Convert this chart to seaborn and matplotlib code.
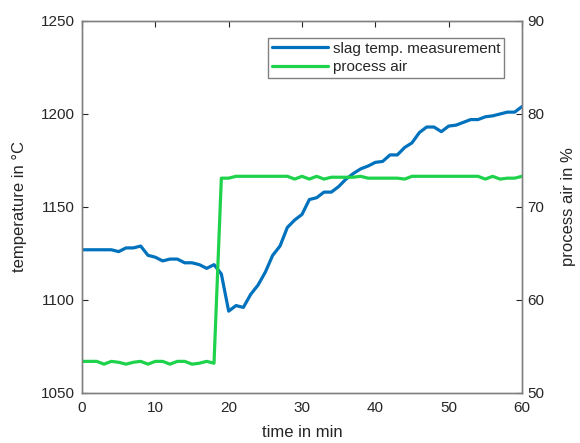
import numpy as np
import pandas as pd
import seaborn as sns
import matplotlib
matplotlib.use("Agg")
import matplotlib.pyplot as plt

# time axis in minutes, one sample per minute
time_min = list(range(0, 61))

# slag temperature measurement in degC
slag_temp = [1127, 1127, 1127, 1127, 1127, 1126, 1128, 1128, 1129, 1124,
             1123, 1121, 1122, 1122, 1120, 1120, 1119, 1117, 1119, 1114,
             1094, 1097, 1096, 1103, 1108, 1115, 1124, 1129, 1139, 1143,
             1146, 1154, 1155, 1158, 1158, 1161, 1165, 1168, 1170.5, 1172,
             1174, 1174.5, 1178, 1178, 1182, 1184.5, 1190, 1193, 1193, 1190.5,
             1193.5, 1194, 1195.5, 1197, 1197, 1198.5, 1199, 1200, 1201, 1201, 1204]

# process air in %
process_air = [53.4, 53.4, 53.4, 53.1, 53.4, 53.3, 53.1, 53.3, 53.4, 53.1,
               53.4, 53.4, 53.1, 53.4, 53.4, 53.1, 53.2, 53.4, 53.2, 73.1,
               73.1, 73.3, 73.3, 73.3, 73.3, 73.3, 73.3, 73.3, 73.3, 73.0,
               73.3, 73.0, 73.3, 73.0, 73.2, 73.2, 73.2, 73.2, 73.3, 73.1,
               73.1, 73.1, 73.1, 73.1, 73.0, 73.3, 73.3, 73.3, 73.3, 73.3,
               73.3, 73.3, 73.3, 73.3, 73.3, 73.0, 73.3, 73.0, 73.1, 73.1, 73.3]

df = pd.DataFrame({"time": time_min, "temp": slag_temp, "air": process_air})

sns.set_style("white")
plt.rcParams["font.family"] = ["Liberation Sans", "DejaVu Sans"]

blue = "#0072BD"
green = "#1ED24B"
grey = "#808080"
txt = "#262626"

fig = plt.figure(figsize=(5.8, 4.43), dpi=100)
ax = fig.add_axes([0.1414, 0.1129, 0.9 - 0.1414, 0.9526 - 0.1129])
ax2 = ax.twinx()

sns.lineplot(data=df, x="time", y="temp", ax=ax, color=blue, linewidth=2.3,
             label="slag temp. measurement", legend=False)
sns.lineplot(data=df, x="time", y="air", ax=ax2, color=green, linewidth=2.3,
             label="process air", legend=False)

ax.set_xlim(0, 60)
ax.set_ylim(1050, 1250)
ax2.set_ylim(50, 90)
ax.set_xticks(range(0, 61, 10))
ax.set_yticks(range(1050, 1251, 50))
ax2.set_yticks(range(50, 91, 10))

ax.set_xlabel("time in min", fontsize=12, color=txt, labelpad=7)
ax.set_ylabel("temperature in °C", fontsize=12, color=txt, labelpad=10)
ax2.set_ylabel("process air in %", fontsize=12, color=txt, labelpad=12)

for a in (ax, ax2):
    for s in a.spines.values():
        s.set_color(grey)
        s.set_linewidth(1.0)
    a.tick_params(direction="in", length=4, width=0.8, color=txt,
                  labelsize=11, labelcolor=txt)
ax.tick_params(axis="x", top=True, pad=6)
ax.tick_params(axis="y", left=True, pad=5)
ax2.tick_params(axis="y", right=True, pad=4)

h1, l1 = ax.get_legend_handles_labels()
h2, l2 = ax2.get_legend_handles_labels()
leg = ax2.legend(h1 + h2, l1 + l2, loc="upper right", fontsize=11,
                 fancybox=False, framealpha=1, edgecolor=grey,
                 handlelength=3.7, handletextpad=0.3, borderpad=0.25,
                 labelspacing=0.3, borderaxespad=0,
                 bbox_to_anchor=(0.96, 0.955))
leg.get_frame().set_linewidth(1.0)

fig.savefig("out.png", dpi=100)
